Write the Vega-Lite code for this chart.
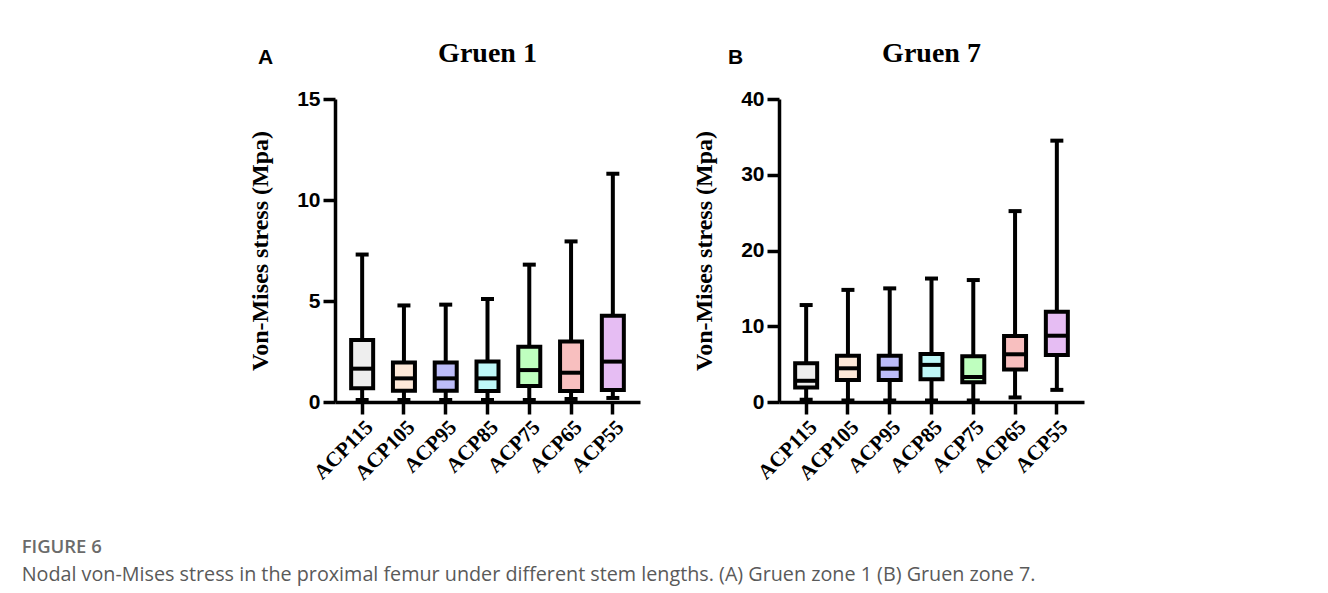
{
  "$schema": "https://vega.github.io/schema/vega-lite/v6.json",
  "padding": {"left": 21, "top": 40, "right": 10, "bottom": 10},
  "background": "white",
  "title": {
    "text": "FIGURE 6",
    "subtitle": "Nodal von-Mises stress in the proximal femur under different stem lengths. (A) Gruen zone 1 (B) Gruen zone 7.",
    "orient": "bottom",
    "anchor": "start",
    "frame": "bounds",
    "dx": -227,
    "offset": 54,
    "font": "Open Sans",
    "fontSize": 18.5,
    "fontWeight": 600,
    "color": "#6b6b6b",
    "subtitleFont": "Open Sans",
    "subtitleFontSize": 19.75,
    "subtitleFontWeight": "normal",
    "subtitleColor": "#5a5a5a",
    "subtitlePadding": 9
  },
  "datasets": {
    "g1": [
      {"group": "ACP115", "min": 0.1, "q1": 0.68, "median": 1.65, "q3": 3.07, "max": 7.3},
      {"group": "ACP105", "min": 0.1, "q1": 0.56, "median": 1.17, "q3": 1.96, "max": 4.78},
      {"group": "ACP95", "min": 0.1, "q1": 0.56, "median": 1.17, "q3": 1.96, "max": 4.82},
      {"group": "ACP85", "min": 0.1, "q1": 0.55, "median": 1.17, "q3": 2.0, "max": 5.1},
      {"group": "ACP75", "min": 0.1, "q1": 0.79, "median": 1.58, "q3": 2.74, "max": 6.8},
      {"group": "ACP65", "min": 0.15, "q1": 0.55, "median": 1.45, "q3": 3.0, "max": 7.95},
      {"group": "ACP55", "min": 0.2, "q1": 0.6, "median": 2.0, "q3": 4.27, "max": 11.3}
    ],
    "g7": [
      {"group": "ACP115", "min": 0.3, "q1": 1.9, "median": 2.8, "q3": 5.1, "max": 12.8},
      {"group": "ACP105", "min": 0.2, "q1": 2.9, "median": 4.45, "q3": 6.1, "max": 14.8},
      {"group": "ACP95", "min": 0.2, "q1": 2.9, "median": 4.4, "q3": 6.1, "max": 15.0},
      {"group": "ACP85", "min": 0.2, "q1": 3.0, "median": 4.9, "q3": 6.35, "max": 16.3},
      {"group": "ACP75", "min": 0.2, "q1": 2.6, "median": 3.3, "q3": 6.05, "max": 16.1},
      {"group": "ACP65", "min": 0.6, "q1": 4.3, "median": 6.3, "q3": 8.7, "max": 25.2},
      {"group": "ACP55", "min": 1.6, "q1": 6.2, "median": 8.75, "q3": 11.9, "max": 34.5}
    ]
  },
  "config": {
    "view": {"stroke": null},
    "concat": {"spacing": 52},
    "tick": {"opacity": 1},
    "axis": {
      "domainColor": "black",
      "domainWidth": 3.5,
      "tickColor": "black",
      "tickWidth": 3.5,
      "tickSize": 12,
      "grid": false,
      "labelColor": "black",
      "titleColor": "black"
    },
    "axisY": {
      "labelFont": "Liberation Sans",
      "labelFontSize": 21,
      "labelFontWeight": "bold",
      "labelPadding": 3,
      "titleFont": "Liberation Serif",
      "titleFontSize": 24,
      "titleFontWeight": "bold",
      "titlePadding": 24
    },
    "axisX": {
      "labelFont": "Liberation Serif",
      "labelFontSize": 21,
      "labelFontWeight": "bold",
      "labelAngle": -45,
      "labelAlign": "right",
      "labelBaseline": "top",
      "labelPadding": 2
    },
    "title": {"color": "black"}
  },
  "hconcat": [
    {
      "title": {"text": "A", "anchor": "start", "frame": "group", "font": "Liberation Sans", "fontSize": 21, "fontWeight": "bold", "dx": -77, "dy": 28, "offset": 0},
      "vconcat": [
        {
          "title": {"text": "Gruen 1", "anchor": "middle", "frame": "group", "font": "Liberation Serif", "fontSize": 28, "fontWeight": "bold", "offset": 20},
          "width": 305,
          "height": 303,
          "data": {"name": "g1"},
          "encoding": {
            "x": {"field": "group", "type": "nominal", "sort": null, "title": null,
                  "scale": {"paddingInner": 0.4, "paddingOuter": 0.35}},
            "color": {"field": "group", "type": "nominal", "legend": null, "sort": null,
                      "scale": {"domain": ["ACP115", "ACP105", "ACP95", "ACP85", "ACP75", "ACP65", "ACP55"],
                                "range": ["#eeeeee", "#fde8d8", "#bcbcf8", "#bff8f8", "#bfffbf", "#f8bfbf", "#e6bdf3"]}}
          },
          "layer": [
            {"mark": {"type": "rule", "color": "black", "strokeWidth": 4, "opacity": 1},
             "encoding": {"y": {"field": "min", "type": "quantitative", "title": "Von-Mises stress (Mpa)",
                                "scale": {"domain": [0, 15], "nice": false},
                                "axis": {"values": [0, 5, 10, 15]}},
                          "y2": {"field": "max"}, "color": {"value": "black"}}},
            {"mark": {"type": "tick", "color": "black", "size": 13, "thickness": 4, "opacity": 1},
             "encoding": {"y": {"field": "max", "type": "quantitative"}, "color": {"value": "black"}}},
            {"mark": {"type": "tick", "color": "black", "size": 13, "thickness": 4, "opacity": 1},
             "encoding": {"y": {"field": "min", "type": "quantitative"}, "color": {"value": "black"}}},
            {"mark": {"type": "bar", "size": 22, "stroke": "black", "strokeWidth": 4, "opacity": 1},
             "encoding": {"y": {"field": "q1", "type": "quantitative"}, "y2": {"field": "q3"}}},
            {"mark": {"type": "tick", "color": "black", "size": 22, "thickness": 4, "opacity": 1},
             "encoding": {"y": {"field": "median", "type": "quantitative"}, "color": {"value": "black"}}}
          ]
        }
      ]
    },
    {
      "title": {"text": "B", "anchor": "start", "frame": "group", "font": "Liberation Sans", "fontSize": 21, "fontWeight": "bold", "dx": -51, "dy": 28, "offset": 0},
      "vconcat": [
        {
          "title": {"text": "Gruen 7", "anchor": "middle", "frame": "group", "font": "Liberation Serif", "fontSize": 28, "fontWeight": "bold", "offset": 20},
          "width": 305,
          "height": 303,
          "data": {"name": "g7"},
          "encoding": {
            "x": {"field": "group", "type": "nominal", "sort": null, "title": null,
                  "scale": {"paddingInner": 0.4, "paddingOuter": 0.35}},
            "color": {"field": "group", "type": "nominal", "legend": null, "sort": null,
                      "scale": {"domain": ["ACP115", "ACP105", "ACP95", "ACP85", "ACP75", "ACP65", "ACP55"],
                                "range": ["#eeeeee", "#fde8d8", "#bcbcf8", "#bff8f8", "#bfffbf", "#f8bfbf", "#e6bdf3"]}}
          },
          "layer": [
            {"mark": {"type": "rule", "color": "black", "strokeWidth": 4, "opacity": 1},
             "encoding": {"y": {"field": "min", "type": "quantitative", "title": "Von-Mises stress (Mpa)",
                                "scale": {"domain": [0, 40], "nice": false},
                                "axis": {"values": [0, 10, 20, 30, 40]}},
                          "y2": {"field": "max"}, "color": {"value": "black"}}},
            {"mark": {"type": "tick", "color": "black", "size": 13, "thickness": 4, "opacity": 1},
             "encoding": {"y": {"field": "max", "type": "quantitative"}, "color": {"value": "black"}}},
            {"mark": {"type": "tick", "color": "black", "size": 13, "thickness": 4, "opacity": 1},
             "encoding": {"y": {"field": "min", "type": "quantitative"}, "color": {"value": "black"}}},
            {"mark": {"type": "bar", "size": 22, "stroke": "black", "strokeWidth": 4, "opacity": 1},
             "encoding": {"y": {"field": "q1", "type": "quantitative"}, "y2": {"field": "q3"}}},
            {"mark": {"type": "tick", "color": "black", "size": 22, "thickness": 4, "opacity": 1},
             "encoding": {"y": {"field": "median", "type": "quantitative"}, "color": {"value": "black"}}}
          ]
        }
      ]
    }
  ]
}
